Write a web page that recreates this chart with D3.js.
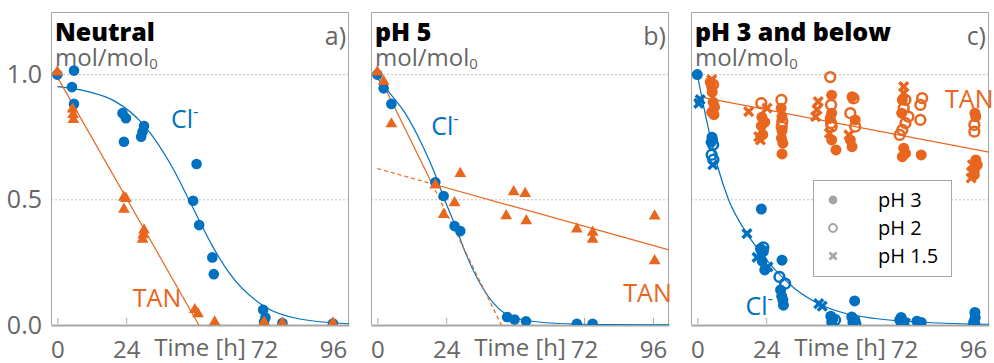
<!DOCTYPE html>
<html><head><meta charset="utf-8">
<script src="https://cdn.jsdelivr.net/npm/d3@7"></script>
<style>
body{margin:0;background:#fff;}
svg text{font-family:"Open Sans","Noto Sans",sans-serif;}
</style></head>
<body><svg id="c" width="994" height="363"></svg>
<script>
// ---------- data ----------
const panelTitles = ["Neutral", "pH 5", "pH 3 and below"];
const panelLetters = ["a)", "b)", "c)"];
const xTicks = [0, 24, 72, 96];
const yTicks = [0.0, 0.5, 1.0];
const gridVals = [0.5, 1.0];
const legendLabels = ["pH 3", "pH 2", "pH 1.5"];
const legendCodes = [3, 2, 1.5];

// Panel a (Neutral)
const clA_t = [0, 5.8, 5.1, 5.8, 22.7, 23.9, 23.2, 30.2, 29.7, 29.2, 48.5, 47.3, 49.4, 54, 54.5, 71.7, 72.5, 72, 78.4, 96];
const clA_v = [1.0, 1.016, 0.95, 0.883, 0.846, 0.826, 0.732, 0.795, 0.772, 0.752, 0.643, 0.496, 0.399, 0.27, 0.203, 0.061, 0.03, 0.012, 0.008, 0.006];
const tanA_t = [0, 5.3, 5.5, 5.6, 23.2, 23.9, 23.2, 30.2, 29.9, 29.7, 47.9, 49, 54.8, 72, 78.4, 96];
const tanA_v = [1.01, 0.862, 0.84, 0.82, 0.51, 0.505, 0.462, 0.379, 0.36, 0.342, 0.061, 0.045, 0.012, 0.012, 0.008, 0.008];
const fitClA = [[0,0.952],[10,0.934],[20,0.894],[30,0.8],[40,0.631],[46.7,0.48],[54,0.316],[60,0.206],[72,0.075],[84,0.025],[101.6,0.005]];
const fitTanA = [[0,0.99],[49.3,0]];

// Panel b (pH 5)
const clB_t = [0, 2.2, 4.9, 20.2, 23.1, 26.9, 28.9, 45.2, 47.8, 51.8, 69.5, 75];
const clB_v = [1.0, 0.945, 0.883, 0.57, 0.515, 0.395, 0.375, 0.032, 0.022, 0.015, 0.005, 0.005];
const tanB_t = [0, 2.2, 4.9, 28.9, 20.2, 26.9, 23.1, 47.5, 51.5, 44.9, 51.9, 69.5, 75, 75, 96.6, 96.6];
const tanB_v = [1.01, 0.972, 0.803, 0.605, 0.559, 0.488, 0.441, 0.532, 0.525, 0.436, 0.416, 0.383, 0.37, 0.342, 0.435, 0.256];
const fitClB = [[0,0.985],[3.9,0.932],[9.75,0.845],[15.6,0.72],[20.2,0.6],[23.1,0.51],[27.2,0.395],[31,0.28],[36.5,0.152],[44.6,0.045],[52,0.018],[62,0.007],[80,0.002],[101.6,0.0005]];
const fitTanB1 = [[0,1.01],[43.2,0]];       // steep line
const fitTanB2 = [[0,0.625],[101.6,0.30]];   // shallow line
const tanBBreak = 19.06;                      // crossing of the two lines

// Panel c (pH 3 and below): [time, value, pH]
const clC = [
 [0,1.0,3],[1,0.9,1.5],[0.5,0.885,1.5],
 [5.1,0.75,3],[5.3,0.74,3],[4.8,0.73,3],[5.5,0.72,2],[5,0.68,2],[5.6,0.66,2],[5.4,0.64,1.5],
 [22.3,0.463,3],[17.3,0.365,1.5],
 [22,0.305,3],[23,0.31,2],[22.8,0.295,2],[22.5,0.29,3],[20.8,0.27,1.5],[22.6,0.255,3],[24.6,0.232,1.5],[23.5,0.22,3],
 [29.5,0.259,3],[28.6,0.192,2],[30.6,0.165,2],[29,0.14,3],[29.4,0.115,3],[29.8,0.1,3],[30,0.079,3],
 [42.3,0.085,1.5],[43.5,0.075,1.5],
 [54.8,0.096,3],
 [46.5,0.035,3],[47.2,0.025,3],[46.8,0.012,3],[48,0.02,2],
 [53.8,0.032,3],[54.9,0.02,3],[54.2,0.01,3],[55,0.005,2],
 [71,0.03,3],[70.5,0.02,3],[72,0.012,3],[71.5,0.005,2],[72.5,0.008,1.5],
 [76.5,0.015,3],[78,0.01,3],[77.5,0.005,2],
 [96.7,0.05,3],[96.8,0.03,3],[96.3,0.012,3],[96.5,0.004,2]
];
const tanC = [
 [5,0.98,1.5],[4.5,0.97,3],[5.5,0.96,2],[5,0.95,3],[5.2,0.93,3],[5.5,0.89,3],[6,0.87,3],[5,0.85,3],[5.8,0.84,3],
 [17.9,0.852,1.5],[22.3,0.886,2],[24.3,0.866,1.5],[22.5,0.83,3],[23.5,0.81,3],[22.3,0.795,3],[21.4,0.752,1.5],[22,0.739,1.5],[22.8,0.76,3],
 [29.3,0.899,2],[29.2,0.866,3],[29.5,0.832,3],[29.6,0.812,2],[29.4,0.792,2],[29.5,0.776,3],[29.3,0.746,3],[29.8,0.726,3],[29.5,0.683,3],
 [46.3,0.99,2],[46.8,0.918,3],[42.1,0.892,1.5],[41.7,0.86,1.5],[41.2,0.832,1.5],[46.6,0.879,2],[46.8,0.846,3],[46.3,0.826,3],[46.6,0.806,2],[46.8,0.792,2],[46,0.766,1.5],[46.8,0.739,3],[48.3,0.699,3],
 [53.9,0.912,3],[54.4,0.905,2],[53.3,0.846,2],[55,0.819,3],[55,0.792,2],[52.8,0.759,1.5],[53.3,0.739,3],[53.9,0.712,3],
 [71.9,0.952,1.5],[71.9,0.926,1.5],[71.4,0.899,3],[72.5,0.899,2],[71.9,0.866,2],[71.2,0.846,3],[73.5,0.832,2],[72.5,0.806,2],[71.4,0.779,2],[70.5,0.759,2],[71.9,0.706,3],[72.5,0.685,3],[71.4,0.672,3],
 [78,0.679,3],[78.3,0.906,2],[77.7,0.879,2],[77.7,0.819,2],
 [96.7,0.846,3],[97,0.832,3],[96.5,0.799,2],[96.5,0.772,2],[97,0.659,3],[97.5,0.639,3],[96.5,0.619,3],[95.8,0.64,1.5],[95.5,0.61,1.5],[95.4,0.587,1.5],[96.5,0.6,3]
];
const fitClC = [[0,1.0],[3,0.83],[6.9,0.64],[10.9,0.5],[17.3,0.365],[22,0.29],[27.2,0.219],[34,0.145],[42.3,0.085],[52,0.045],[62,0.026],[80,0.01],[101.6,0.003]];
const fitTanC = [[0,0.913],[101.6,0.69]];

// ---------- styling / layout ----------
const BLUE = "#0070C0", ORANGE = "#E8661E", GRAY = "#666666", FRAME = "#A6A6A6";
const lefts = [51, 371, 691], W = 298, TOP = 12, BOT = 325;
const svg = d3.select("#c");

const panels = lefts.map((L, i) => {
  const x = d3.scaleLinear().domain([-2.2, 101.6]).range([L, L + W]);
  const y = d3.scaleLinear().domain([0, 1.25]).range([BOT, TOP]);
  const g = svg.append("g");
  const cid = "clip" + i;
  svg.append("clipPath").attr("id", cid).append("rect")
    .attr("x", L).attr("y", TOP).attr("width", W).attr("height", BOT - TOP);
  // grid
  g.selectAll(".grid").data(gridVals).join("line")
    .attr("x1", L).attr("x2", L + W).attr("y1", d => y(d)).attr("y2", d => y(d))
    .attr("stroke", "#BFBFBF").attr("stroke-width", 1).attr("stroke-dasharray", "2,2");
  // frame
  g.append("path").attr("d", `M${L+0.5},${BOT}V${TOP+0.5}H${L+W-0.5}V${BOT}`)
    .attr("fill", "none").attr("stroke", FRAME).attr("stroke-width", 1);
  // x axis
  const ax = d3.axisBottom(x).tickValues(xTicks).tickSize(0).tickFormat(d3.format("d"));
  const axg = g.append("g").attr("transform", `translate(0,${BOT})`).call(ax);
  axg.select(".domain").attr("stroke", FRAME).attr("stroke-width", 2);
  axg.selectAll(".tick text").attr("font-size", 24).attr("fill", GRAY)
     .attr("font-family", "Open Sans").attr("dy", 0).attr("y", 33);
  axg.selectAll(".tick").append("line").attr("y1", -1).attr("y2", -7)
     .attr("stroke", FRAME).attr("stroke-width", 1);
  g.append("text").attr("x", x(48) + 5).attr("y", 356).attr("text-anchor", "middle")
    .attr("font-size", 24).attr("fill", GRAY).text("Time [h]");
  // titles
  g.append("text").attr("x", L + 4).attr("y", 41).attr("font-size", 25).attr("font-weight", 800)
    .attr("fill", "#000").text(panelTitles[i]);
  const u = g.append("text").attr("x", L + 4).attr("y", 66).attr("font-size", 24).attr("fill", GRAY);
  u.append("tspan").text("mol/mol");
  u.append("tspan").attr("font-size", 15).attr("dy", 3).text("0");
  g.append("text").attr("x", L + W - 3).attr("y", 45).attr("text-anchor", "end")
    .attr("font-size", 25).attr("fill", GRAY).text(panelLetters[i]);
  const content = svg.append("g").attr("clip-path", `url(#${cid})`);
  return {x, y, g, content, L};
});

// y axis labels (panel a only)
const pa = panels[0];
const ay = d3.axisLeft(pa.y).tickValues(yTicks).tickSize(0).tickFormat(d3.format(".1f"));
const ayg = svg.append("g").attr("transform", `translate(${pa.L - 6},0)`).call(ay);
ayg.select(".domain").remove();
ayg.selectAll(".tick text").attr("font-size", 25).attr("fill", GRAY).attr("font-family", "Open Sans");

function drawLine(p, pts, color, dash) {
  const line = d3.line().x(d => p.x(d[0])).y(d => p.y(d[1])).curve(d3.curveMonotoneX);
  p.content.append("path").attr("d", line(pts)).attr("fill", "none")
    .attr("stroke", color).attr("stroke-width", 1.2).attr("stroke-dasharray", dash || null);
}
function circles(p, ts, vs, color) {
  p.content.selectAll(null).data(d3.zip(ts, vs)).join("circle")
    .attr("cx", d => p.x(d[0])).attr("cy", d => p.y(d[1])).attr("r", 5.3).attr("fill", color);
}
const tri = d3.symbol(d3.symbolTriangle, 60);
function triangles(p, ts, vs, color) {
  p.content.selectAll(null).data(d3.zip(ts, vs)).join("path")
    .attr("transform", d => `translate(${p.x(d[0])},${p.y(d[1])})`).attr("d", tri()).attr("fill", color);
}
function marker(sel, code, color, s) {
  if (code === 3) {
    sel.append("circle").attr("r", 5.5 * s).attr("fill", color);
  } else if (code === 2) {
    sel.append("circle").attr("r", 4.9 * s).attr("fill", "none").attr("stroke", color).attr("stroke-width", 2.5 * s);
  } else {
    const a = 4.4 * s;
    sel.append("path").attr("d", `M${-a},${-a}L${a},${a}M${-a},${a}L${a},${-a}`)
      .attr("stroke", color).attr("stroke-width", 3.4 * s).attr("stroke-linecap", "butt");
  }
}
function mixed(p, data, color) {
  data.forEach(d => {
    const m = p.content.append("g").attr("transform", `translate(${p.x(d[0])},${p.y(d[1])})`);
    marker(m, d[2], color, 1);
  });
}
function label(p, text, t, v, color, sup) {
  const tx = p.g.append("text").attr("x", p.x(t)).attr("y", p.y(v)).attr("font-size", 25).attr("fill", color);
  tx.append("tspan").text(text);
  if (sup) tx.append("tspan").attr("font-size", 17).attr("dy", -11).text("-");
}

// Panel a
drawLine(pa, fitClA, BLUE);
drawLine(pa, fitTanA, ORANGE);
circles(pa, clA_t, clA_v, BLUE);
triangles(pa, tanA_t, tanA_v, ORANGE);
label(pa, "Cl", 39.6, 0.787, BLUE, true);
label(pa, "TAN", 26.3, 0.07, ORANGE, false);

// Panel b
const pb = panels[1];
const l1 = d3.scaleLinear().domain([fitTanB1[0][0], fitTanB1[1][0]]).range([fitTanB1[0][1], fitTanB1[1][1]]);
const l2 = d3.scaleLinear().domain([fitTanB2[0][0], fitTanB2[1][0]]).range([fitTanB2[0][1], fitTanB2[1][1]]);
drawLine(pb, fitClB, BLUE);
drawLine(pb, [fitTanB1[0], [tanBBreak, l1(tanBBreak)]], ORANGE);
drawLine(pb, [[tanBBreak, l1(tanBBreak)], fitTanB1[1]], ORANGE, "4,3");
drawLine(pb, [fitTanB2[0], [tanBBreak, l2(tanBBreak)]], ORANGE, "4,3");
drawLine(pb, [[tanBBreak, l2(tanBBreak)], fitTanB2[1]], ORANGE);
circles(pb, clB_t, clB_v, BLUE);
triangles(pb, tanB_t, tanB_v, ORANGE);
label(pb, "Cl", 18.8, 0.76, BLUE, true);
label(pb, "TAN", 85.7, 0.092, ORANGE, false);

// Panel c
const pc = panels[2];
drawLine(pc, fitTanC, ORANGE);
drawLine(pc, fitClC, BLUE);
mixed(pc, tanC, ORANGE);
mixed(pc, clC, BLUE);
label(pc, "TAN", 86.3, 0.866, ORANGE, false);
label(pc, "Cl", 16.8, 0.04, BLUE, true);

// legend
const lg = svg.append("g");
lg.append("rect").attr("x", 813.5).attr("y", 180.5).attr("width", 138).attr("height", 96)
  .attr("fill", "#fff").attr("stroke", FRAME).attr("stroke-width", 1);
legendLabels.forEach((t, i) => {
  const yy = 200 + i * 28;
  const m = lg.append("g").attr("transform", `translate(833,${yy})`);
  marker(m, legendCodes[i], "#A5A5A5", 0.8);
  lg.append("text").attr("x", 878).attr("y", yy + 7).attr("font-size", 20).attr("fill", "#000").text(t);
});
</script></body></html>
